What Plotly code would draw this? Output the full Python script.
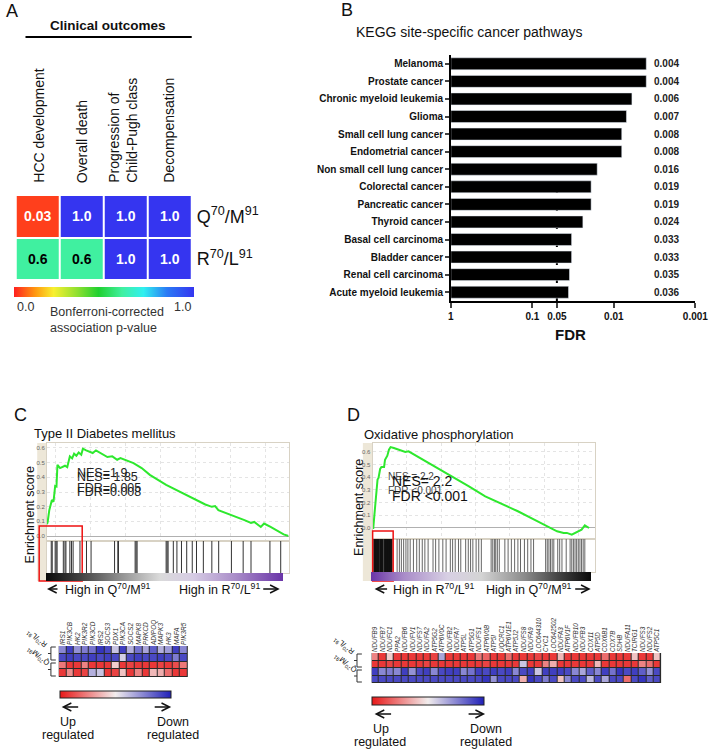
import numpy as np
import plotly.graph_objects as go

W, H = 723, 750
def px(x): return x / W
def py(y): return 1 - y / H

FONT = "Arial, 'Liberation Sans', sans-serif"

# ---------------- Panel A data ----------------
outcomes = ["HCC development", "Overall death", "Progression of<br>Child-Pugh class", "Decompensation"]
genotypes = ["Q<sup>70</sup>/M<sup>91</sup>", "R<sup>70</sup>/L<sup>91</sup>"]
pval_q70m91 = [0.03, 1.0, 1.0, 1.0]
pval_r70l91 = [0.6, 0.6, 1.0, 1.0]

# ---------------- Panel B data ----------------
pathways = ["Melanoma", "Prostate cancer", "Chronic myeloid leukemia", "Glioma",
            "Small cell lung cancer", "Endometrial cancer", "Non small cell lung cancer",
            "Colorectal cancer", "Pancreatic cancer", "Thyroid cancer",
            "Basal cell carcinoma", "Bladder cancer", "Renal cell carcinoma",
            "Acute myeloid leukemia"]
fdr = [0.004, 0.004, 0.006, 0.007, 0.008, 0.008, 0.016, 0.019, 0.019, 0.024,
       0.033, 0.033, 0.035, 0.036]
fdr_ticks = [1, 0.1, 0.05, 0.01, 0.001]
fdr_cutoff = 0.05

# ---------------- Panel C data (Type II Diabetes mellitus) ----------------
c_rank = [0, 28, 98, 210, 280, 350, 406, 448, 560, 658, 770, 868, 980, 1078, 1162, 1260,
          1358, 1470, 1540, 1680, 1820, 1960, 2100, 2240, 2450, 2590, 2800, 3010, 3150,
          3430, 3710, 4060, 4410, 5110, 5810, 6370, 6790, 7070, 7210, 7350, 7630, 7910,
          8190, 8470, 8750, 8890, 9170, 9310, 9590, 9870, 10150, 10360]
c_es = [0.08, 0.096, 0.176, 0.245, 0.234, 0.341, 0.337, 0.485, 0.463, 0.469, 0.479, 0.469,
        0.543, 0.529, 0.561, 0.547, 0.570, 0.554, 0.595, 0.584, 0.577, 0.566, 0.584, 0.570,
        0.554, 0.538, 0.543, 0.520, 0.531, 0.515, 0.497, 0.463, 0.417, 0.348, 0.291, 0.245,
        0.215, 0.199, 0.204, 0.176, 0.160, 0.142, 0.126, 0.108, 0.089, 0.096, 0.062, 0.085,
        0.062, 0.034, 0.011, 0.0]
c_hits = [182, 224, 350, 392, 434, 700, 770, 812, 980, 1050, 1120, 1414, 1694, 1890, 2898,
          3038, 3066, 3780, 3822, 3864, 5110, 5152, 5194, 5418, 5572, 5768, 5992, 6230,
          6412, 6706, 7070, 7364, 7910, 8414, 8750, 9562, 10024]
c_genes = ["IRS1", "PIK3CB", "HK2", "PIK3R2", "PIK3CD", "IRS2", "SOCS3", "PDX1", "PIK3CA",
           "SOCS2", "MAPK8", "PRKCD", "ADIPOQ", "MAPK3", "HK3", "MAFA", "PIK3R5"]
c_expr_r1 = [0.5, 0.85, 0.45, 0.55, 0.6, 0.9, 0.8, 0.2, 0.85, 0.3, 0.6, 0.35, 0.7, 0.3, 0.4, 0.85, 0.5]
c_expr_r2 = [0.8, 0.85, 0.8, 0.8, 0.85, 0.8, 0.85, 0.8, 0.15, 0.8, 0.85, 0.8, 0.8, 0.85, 0.8, 0.55, 0.8]
c_expr_q1 = [-0.55, -0.85, -0.85, -0.5, -0.85, -0.85, -0.85, -0.15, -0.85, -0.8, -0.85, -0.85, -0.85, -0.8, -0.85, -0.75, -0.55]
c_expr_q2 = [-0.85, -0.45, -0.85, -0.8, 0.3, 0.2, -0.85, -0.8, -0.2, -0.85, -0.5, -0.85, -0.25, -0.3, -0.6, -0.85, -0.85]

# ---------------- Panel D data (Oxidative phosphorylation) ----------------
d_rank = [0, 30, 75, 120, 165, 225, 270, 300, 345, 405, 525, 570, 675, 750, 825, 975, 1275,
          1500, 1650, 2175, 2925, 3675, 4425, 5175, 5925, 6675, 7425, 8025, 8475, 8775, 8925,
          9150, 9375, 9600, 9750, 9855, 9945]
d_es = [0.0, 0.0, 0.092, 0.171, 0.263, 0.382, 0.395, 0.421, 0.466, 0.482, 0.482, 0.539, 0.571,
        0.618, 0.639, 0.632, 0.611, 0.600, 0.605, 0.553, 0.482, 0.408, 0.329, 0.250, 0.192,
        0.132, 0.066, 0.013, -0.026, -0.039, -0.039, -0.053, -0.034, -0.013, 0.021, 0.008, 0.0]
d_hits_lead = [75, 105, 135, 165, 195, 225, 255, 345, 375, 405, 435, 465, 570, 600, 630, 660,
               690, 720, 750, 780, 810, 840, 870]
d_hits_rest = [1125, 1230, 1320, 1425, 1530, 1620, 1725, 1875, 2025, 2145, 2280, 2400, 2550,
               2775, 2895, 3045, 3225, 3375, 3570, 3675, 3795, 3945, 4050, 4275, 4395, 4500,
               4605, 4755, 4875, 4995, 5445, 5520, 5595, 5655, 5730, 5820, 6075, 6225, 6375,
               6525, 6675, 6795, 6975, 7125, 7275, 7395, 7950, 8025, 8100, 8175, 8250, 8325,
               8505, 8595, 8700, 8895, 9075, 9150, 9225, 9300, 9375, 9450, 9525, 9600, 9675, 9750]
d_genes = ["NDUFB9", "NDUFB7", "NDUFC1", "PPA2", "NDUFB6", "NDUFV1", "NDUFS7", "NDUFA2",
           "ATP5G2", "ATP6V0C", "NDUFB2", "NDUFA7", "ATP5L", "ATP5G1", "NDUFS1", "ATP6V0B",
           "ATP5I", "UQCRC1", "ATP6V1E1", "ATP5J2", "NDUFS8", "NDUFA9", "LOC644310", "CYC1",
           "LOC642502", "NDUFA3", "ATP6V1F", "NDUFB10", "NDUFB3", "COX11", "ATP5D", "COX6B1",
           "COX7B", "SDHB", "NDUFA11", "TCIRG1", "NDUFS3", "NDUFS2", "ATP5C1"]
d_expr_r1 = [-0.5, -0.85, -0.15, -0.85, -0.85, -0.85, -0.85, -0.85, -0.8, 0.35, -0.85, -0.85, -0.85,
             -0.85, -0.55, -0.65, -0.85, -0.85, -0.6, -0.85, -0.85, -0.85, -0.8, -0.85, -0.85, -0.25,
             -0.85, -0.85, -0.85, -0.85, -0.85, -0.6, -0.85, -0.85, -0.85, -0.2, -0.85, -0.85, -0.2]
d_expr_r2 = [-0.85, -0.85, -0.8, -0.85, -0.85, -0.85, -0.85, -0.8, -0.85, -0.85, -0.85, -0.85, -0.85,
             -0.85, -0.85, -0.8, -0.85, -0.85, -0.85, -0.85, 0.2, -0.85, -0.85, -0.5, -0.3, -0.85,
             -0.85, -0.85, -0.85, -0.85, -0.25, -0.85, -0.85, -0.85, -0.85, -0.85, -0.5, -0.6, -0.85]
d_expr_q1 = [0.85, 0.5, 0.55, 0.5, 0.85, 0.45, 0.8, 0.85, 0.5, 0.8, 0.85, 0.85, 0.5, 0.6, 0.85,
             0.8, 0.85, 0.8, 0.85, 0.5, 0.8, 0.85, 0.2, 0.85, 0.85, 0.85, 0.8, 0.5, 0.35, 0.7,
             0.5, 0.85, 0.6, 0.9, 0.8, 0.85, 0.7, 0.45, 0.8]
d_expr_q2 = [0.8, 0.8, 0.8, 0.8, 0.8, 0.8, 0.8, 0.8, 0.8, 0.8, 0.8, 0.8, 0.8, 0.8, 0.8, 0.9,
             0.45, 0.8, 0.8, 0.8, -0.3, 0.9, 0.8, 0.55, 0.8, -0.2, 0.5, 0.8, 0.8, 0.25, 0.8,
             0.35, 0.8, 0.8, -0.6, 0.8, 0.9, 0.7, 0.8]

# ---------------- styles ----------------
JET = [[0, '#ff2020'], [0.12, '#ff9a10'], [0.22, '#f8f030'], [0.35, '#90e030'],
       [0.47, '#20d030'], [0.6, '#40f0a0'], [0.72, '#30f0f0'], [0.85, '#2a7af5'], [1, '#3535f0']]
RWB = [[0, '#e81818'], [0.5, '#f2eded'], [1, '#2020b8']]
C_GRAD = [[0, '#0a0a0a'], [0.15, '#444444'], [0.3, '#8a8a8a'], [0.48, '#dadada'],
          [0.62, '#d6cce4'], [0.8, '#a98cc8'], [1, '#6a35a8']]
D_GRAD = [[0, '#6a35a8'], [0.15, '#a98cc8'], [0.35, '#d8d0e4'], [0.5, '#d4d4d4'],
          [0.7, '#8a8a8a'], [0.85, '#444444'], [1, '#0a0a0a']]


def hbar(cx, top, length, thick, outline=0):
    return dict(orientation='h', x=px(cx), xanchor='center', y=py(top), yanchor='top',
                len=length, lenmode='pixels', thickness=thick, thicknessmode='pixels',
                outlinewidth=outline, outlinecolor='#222', showticklabels=False, ticks='',
                xpad=0, ypad=0)


def vlines(xs):
    X, Y = [], []
    for h in xs:
        X += [h, h, None]
        Y += [0, 1, None]
    return X, Y


fig = go.Figure()

# Panel A heatmap
fig.add_trace(go.Heatmap(z=[pval_q70m91, pval_r70l91], x=outcomes, y=genotypes,
                         zmin=0, zmax=1, colorscale=JET, xgap=2, ygap=2,
                         colorbar=hbar(103, 287, 180, 10), hoverinfo='skip',
                         xaxis='x', yaxis='y'))

# Panel B bars
fig.add_trace(go.Bar(x=-np.log10(fdr), y=pathways, orientation='h', marker_color='black',
                     width=0.68, xaxis='x2', yaxis='y2', hoverinfo='skip'))

# Panel C ES
fig.add_trace(go.Scatter(x=c_rank, y=c_es, mode='lines', line=dict(color='#2ee82e', width=2),
                         xaxis='x3', yaxis='y3', hoverinfo='skip'))
cx, cy = vlines(c_hits)
fig.add_trace(go.Scatter(x=cx, y=cy, mode='lines+markers', line=dict(color='#333', width=1),
                         marker=dict(size=1, opacity=0, showscale=True, cmin=0, cmax=1,
                                     colorscale=C_GRAD, colorbar=hbar(165.5, 573, 237, 8)),
                         xaxis='x4', yaxis='y4', hoverinfo='skip'))
fig.add_trace(go.Heatmap(z=[c_expr_r1, c_expr_r2, c_expr_q1, c_expr_q2], x=c_genes, y=[0, 1, 2, 3],
                         zmin=-1, zmax=1, colorscale=RWB, xgap=1, ygap=1,
                         colorbar=hbar(115.5, 691, 111, 7, 1), hoverinfo='skip',
                         xaxis='x5', yaxis='y5'))

# Panel D ES
fig.add_trace(go.Scatter(x=d_rank, y=d_es, mode='lines', line=dict(color='#2ee82e', width=2),
                         xaxis='x6', yaxis='y6', hoverinfo='skip'))
dx, dy = vlines(d_hits_rest)
fig.add_trace(go.Scatter(x=dx, y=dy, mode='lines+markers', line=dict(color='#666', width=1),
                         marker=dict(size=1, opacity=0, showscale=True, cmin=0, cmax=1,
                                     colorscale=D_GRAD, colorbar=hbar(489, 572, 220, 9)),
                         xaxis='x7', yaxis='y7', hoverinfo='skip'))
lx, ly = vlines(d_hits_lead)
fig.add_trace(go.Scatter(x=lx, y=ly, mode='lines', line=dict(color='#111', width=2),
                         xaxis='x7', yaxis='y7', hoverinfo='skip'))
fig.add_trace(go.Heatmap(z=[d_expr_r1, d_expr_r2, d_expr_q1, d_expr_q2], x=d_genes, y=[0, 1, 2, 3],
                         zmin=-1, zmax=1, colorscale=RWB, xgap=1, ygap=1,
                         colorbar=hbar(435, 697, 112, 8, 1), hoverinfo='skip',
                         xaxis='x8', yaxis='y8'))

hidden = dict(showticklabels=False, ticks='', showgrid=False, zeroline=False, showline=False)
es_grid = dict(showgrid=True, gridcolor='#e4e4e4', griddash='dot', gridwidth=1)
box = dict(showline=True, mirror=True, linecolor='#d8d2c4', linewidth=1)

fig.update_layout(
    width=W, height=H, margin=dict(l=0, r=0, t=0, b=0),
    paper_bgcolor='white', plot_bgcolor='white', showlegend=False,
    font=dict(family=FONT, color='#111'),
    # A
    xaxis=dict(domain=[px(13), px(193)], anchor='y', **hidden),
    yaxis=dict(domain=[py(280), py(195)], anchor='x', autorange='reversed', side='right',
               showticklabels=True, ticks='', showgrid=False, zeroline=False,
               tickfont=dict(size=18, color='#111'), ticklabelstandoff=4),
    # B
    xaxis2=dict(domain=[px(458), px(708)], anchor='y2', range=[0, 3],
                tickvals=[-np.log10(t) + 0.0 for t in fdr_ticks], ticktext=[str(t) for t in fdr_ticks],
                ticks='outside', ticklen=5, tickwidth=1.5, showline=True, linecolor='black',
                linewidth=1.5, showgrid=False, zeroline=False,
                tickfont=dict(size=10, color='#111', weight='bold')),
    yaxis2=dict(domain=[py(301), py(55)], anchor='x2', range=[len(pathways) - 0.5, -0.5],
                ticks='outside', ticklen=4, tickwidth=1.5, showline=True, linecolor='black',
                linewidth=1.5, showgrid=False, zeroline=False,
                tickfont=dict(size=10, color='#111', weight='bold')),
    # C ES
    xaxis3=dict(domain=[px(45), px(292)], anchor='y3', range=[0, 10360], showticklabels=False,
                ticks='', zeroline=False, tick0=360, dtick=1500, **es_grid, **box),
    yaxis3=dict(domain=[py(541), py(443)], anchor='x3', range=[-0.034, 0.634],
                tickvals=[0, 0.1, 0.2, 0.3, 0.4, 0.5, 0.6], tickformat='.1f', ticks='',
                tickfont=dict(size=6, color='#666'), zeroline=True, zerolinecolor='#b0b0b0',
                zerolinewidth=1, **es_grid, **box),
    xaxis4=dict(domain=[px(45), px(292)], anchor='y4', range=[0, 10360], showticklabels=False,
                ticks='', showgrid=False, zeroline=False, **box),
    yaxis4=dict(domain=[py(573), py(541)], anchor='x4', range=[0, 1], showticklabels=False,
                ticks='', showgrid=False, zeroline=False, **box),
    xaxis5=dict(domain=[px(57), px(189)], anchor='y5', side='top', tickangle=-90, ticks='',
                tickmode='linear', tick0=0, dtick=1,
                showgrid=False, zeroline=False, showline=False,
                tickfont=dict(size=6.5, color='#333', style='italic')),
    yaxis5=dict(domain=[py(677), py(646)], anchor='x5', range=[3.5, -0.5], **hidden),
    # D ES
    xaxis6=dict(domain=[px(378), px(605)], anchor='y6', range=[0, 10200], showticklabels=False,
                ticks='', zeroline=False, tick0=0, dtick=1575, **es_grid, **box),
    yaxis6=dict(domain=[py(539), py(443)], anchor='x6', range=[-0.087, 0.671],
                tickvals=[0, 0.1, 0.2, 0.3, 0.4, 0.5, 0.6], tickformat='.1f', ticks='',
                tickfont=dict(size=6, color='#666'), zeroline=True, zerolinecolor='#b0b0b0',
                zerolinewidth=1, **es_grid, **box),
    xaxis7=dict(domain=[px(378), px(605)], anchor='y7', range=[0, 10200], showticklabels=False,
                ticks='', showgrid=False, zeroline=False, **box),
    yaxis7=dict(domain=[py(572), py(539)], anchor='x7', range=[0, 1], showticklabels=False,
                ticks='', showgrid=False, zeroline=False, **box),
    xaxis8=dict(domain=[px(377), px(673)], anchor='y8', side='top', tickangle=-90, ticks='',
                tickmode='linear', tick0=0, dtick=1,
                showgrid=False, zeroline=False, showline=False,
                tickfont=dict(size=6.3, color='#333', style='italic')),
    yaxis8=dict(domain=[py(683), py(653)], anchor='x8', range=[3.5, -0.5], **hidden),
)


def ann(x, y, text, size=12, color='#111', xanchor='left', yanchor='middle', angle=0,
        bold=False, align='left'):
    return dict(x=px(x), y=py(y), xref='paper', yref='paper', text=text, showarrow=False,
                font=dict(family=FONT, size=size, color=color, weight='bold' if bold else 'normal'),
                xanchor=xanchor, yanchor=yanchor, textangle=angle, align=align, borderpad=0)


def arrow(x_head, x_tail, y, width=1.3):
    return dict(x=px(x_head), y=py(y), xref='paper', yref='paper',
                ax=x_tail - x_head, ay=0, axref='pixel', ayref='pixel',
                text='', showarrow=True, arrowhead=5,
                arrowsize=1.2, arrowwidth=width, arrowcolor='#111', standoff=0, startstandoff=0)


anns = []
# panel letters
anns += [ann(9, 11, "A", 18, xanchor='center'), ann(352, 10, "B", 18, xanchor='center'),
         ann(18, 415, "C", 18, xanchor='center'), ann(358, 415, "D", 18, xanchor='center')]
# Panel A texts
anns.append(ann(107, 26, "Clinical outcomes", 13.5, xanchor='center', bold=True))
col_x = [36.5, 81.5, 123, 170]
for cxp, lab in zip(col_x, outcomes):
    anns.append(ann(cxp, 184, lab, 14, xanchor='center', yanchor='bottom', angle=-90))
for ri, row in enumerate([pval_q70m91, pval_r70l91]):
    for ci, v in enumerate(row):
        txt = f"{v:.2f}" if v < 0.1 else f"{v:.1f}"
        col = 'black' if 0.3 < v < 0.8 else 'white'
        anns.append(dict(x=outcomes[ci], y=genotypes[ri], xref='x', yref='y', text=txt,
                         showarrow=False, font=dict(family=FONT, size=14, color=col, weight='bold')))
anns += [ann(13, 307, "0.0", 12.5, color='#333'), ann(193, 307, "1.0", 12.5, color='#333', xanchor='right'),
         ann(47, 320, "Bonferroni-corrected<br>association p-value", 12.5, color='#333')]
# Panel B texts
anns.append(ann(360, 32, "KEGG site-specific cancer pathways", 14))
for p, v in zip(pathways, fdr):
    anns.append(dict(x=px(664), y=p, xref='paper', yref='y2', text=f"{v:.3f}", showarrow=False,
                     xanchor='left', font=dict(family=FONT, size=10, color='#222', weight='bold')))
anns.append(ann(580, 334, "FDR", 15, xanchor='center', bold=True))
# Panel C texts
anns.append(ann(31, 433, "Type II Diabetes mellitus", 13))
anns.append(ann(28, 515, "Enrichment score", 12.5, xanchor='center', angle=-90))
anns += [ann(75, 473, "NES=1.9", 12.5, color='#222'), ann(75, 477, "NES= 1.85", 12.5, color='#222'),
         ann(75, 488, "FDR=0.005", 12.5, color='#222'), ann(75, 492, "FDR=0.008", 12.5, color='#222')]
anns += [arrow(45, 57, 589), ann(62, 589, "High in Q<sup>70</sup>/M<sup>91</sup>", 12.5),
         ann(264, 589, "High in R<sup>70</sup>/L<sup>91</sup>", 12.5, xanchor='right'), arrow(283, 265, 589)]
anns += [ann(35, 639, "R<sup>70</sup>/L<sup>91</sup>", 7.5, xanchor='center', angle=-140),
         ann(36, 656, "Q<sup>70</sup>/M<sup>91</sup>", 7.5, xanchor='center', angle=-140)]
anns += [arrow(60, 78, 707), arrow(172, 154, 707),
         ann(66, 722, "Up", 12.5, xanchor='center'), ann(66, 735, "regulated", 12.5, xanchor='center'),
         ann(174, 722, "Down", 12.5, xanchor='center'), ann(174, 735, "regulated", 12.5, xanchor='center')]
# Panel D texts
anns.append(ann(368, 434, "Oxidative phosphorylation", 13))
anns.append(ann(364, 507, "Enrichment score", 12.5, xanchor='center', angle=-90))
anns += [ann(393, 476, "NES = 2.2", 10, color='#444'), ann(397, 481, "NES= 2.2", 14, color='#111'),
         ann(393, 490, "FDR <0.001", 10, color='#444'), ann(397, 496, "FDR <0.001", 14, color='#111')]
anns += [arrow(380, 394, 589), ann(398, 589, "High in R<sup>70</sup>/L<sup>91</sup>", 12.5),
         ann(583, 589, "High in Q<sup>70</sup>/M<sup>91</sup>", 12.5, xanchor='right'), arrow(601, 584, 589)]
anns += [ann(349, 646, "R<sup>70</sup>/L<sup>91</sup>", 7.5, xanchor='center', angle=-140),
         ann(350, 663, "Q<sup>70</sup>/M<sup>91</sup>", 7.5, xanchor='center', angle=-140)]
anns += [arrow(380, 398, 714), arrow(493, 475, 714),
         ann(387, 729, "Up", 12.5, xanchor='center'), ann(386, 742, "regulated", 12.5, xanchor='center'),
         ann(494, 729, "Down", 12.5, xanchor='center'), ann(494, 742, "regulated", 12.5, xanchor='center')]
fig.update_layout(annotations=anns)


def pshape(**kw):
    d = dict(xref='paper', yref='paper')
    d.update(kw)
    return d


shapes = []
shapes.append(pshape(type='line', x0=px(23), x1=px(193), y0=py(37), y1=py(37),
                     line=dict(color='black', width=2)))
# B dashed cutoff
shapes.append(dict(type='line', xref='x2', yref='y2 domain', x0=-np.log10(fdr_cutoff),
                   x1=-np.log10(fdr_cutoff), y0=0, y1=1.015, layer='below',
                   line=dict(color='black', width=2, dash='dash')))
# beige strips
shapes.append(pshape(type='rect', x0=px(35), x1=px(45), y0=py(581), y1=py(443),
                     fillcolor='#ede7d8', line=dict(width=0), layer='below'))
shapes.append(pshape(type='rect', x0=px(368), x1=px(378), y0=py(581), y1=py(443),
                     fillcolor='#ede7d8', line=dict(width=0), layer='below'))
# red leading-edge boxes
shapes.append(pshape(type='rect', x0=px(37), x1=px(81), y0=py(581), y1=py(526),
                     line=dict(color='#ee1111', width=1.5)))
shapes.append(pshape(type='rect', x0=px(378), x1=px(399), y0=py(581), y1=py(531),
                     line=dict(color='#ee1111', width=1.5)))
# dark backgrounds for heatmap grid lines
for ax in ['5', '8']:
    shapes.append(dict(type='rect', xref=f'x{ax} domain', yref=f'y{ax} domain', x0=0, x1=1, y0=0, y1=1,
                       fillcolor='#2a2a2a', line=dict(width=0), layer='below'))
# brackets
def bracket(x, y0, y1):
    xm = (y0 + y1) / 2
    path = (f"M {px(x + 5)},{py(y0)} L {px(x)},{py(y0)} L {px(x)},{py(y1)} L {px(x + 5)},{py(y1)} "
            f"M {px(x)},{py(xm)} L {px(x - 3)},{py(xm)}")
    return pshape(type='path', path=path, line=dict(color='#333', width=1))
shapes += [bracket(49, 647, 660), bracket(49, 663, 676), bracket(362, 654, 667), bracket(362, 670, 682)]
fig.update_layout(shapes=shapes)

fig.write_html("out.html", config={'displayModeBar': False},
               post_script="document.body.style.margin='0px';document.body.style.padding='0px';")
